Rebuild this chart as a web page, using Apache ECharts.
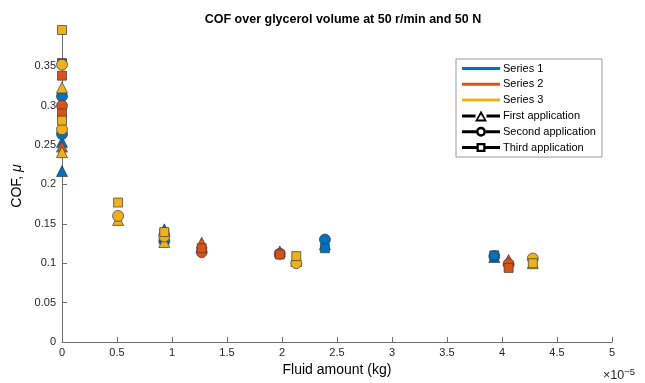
<!DOCTYPE html>
<html>
<head>
<meta charset="utf-8">
<script src="https://cdn.jsdelivr.net/npm/echarts@6/dist/echarts.min.js"></script>
<style>
html,body{margin:0;padding:0;background:#fff;}
#chart{width:645px;height:383px;}
</style>
</head>
<body>
<div id="chart"></div>
<script>
// Fluid amount in units of 1e-5 kg (axis shows ×10^-5)
const s1FirstX  = [0, 0, 0.93, 2.39, 3.93];
const s1FirstY  = [0.217, 0.254, 0.143, 0.124, 0.108];
const s1SecondX = [0, 0, 0.93, 2.39, 3.93];
const s1SecondY = [0.312, 0.264, 0.128, 0.130, 0.109];
const s1ThirdX  = [0, 0.93, 2.39, 3.93];
const s1ThirdY  = [0.354, 0.138, 0.119, 0.110];

const s2FirstX  = [0, 1.27, 1.98, 4.06];
const s2FirstY  = [0.248, 0.126, 0.115, 0.104];
const s2SecondX = [0, 1.27, 1.98, 4.06];
const s2SecondY = [0.300, 0.114, 0.112, 0.099];
const s2ThirdX  = [0, 0, 1.27, 1.98, 4.06];
const s2ThirdY  = [0.338, 0.290, 0.119, 0.111, 0.094];

const s3FirstX  = [0, 0, 0.51, 0.93, 2.13, 4.28];
const s3FirstY  = [0.323, 0.241, 0.155, 0.127, 0.103, 0.100];
const s3SecondX = [0, 0, 0.51, 0.93, 2.13, 4.28];
const s3SecondY = [0.352, 0.270, 0.160, 0.134, 0.100, 0.106];
const s3ThirdX  = [0, 0, 0.51, 0.93, 2.13, 4.28];
const s3ThirdY  = [0.396, 0.281, 0.177, 0.1395, 0.109, 0.100];

const yTickValues = [0, 0.05, 0.1, 0.15, 0.2, 0.25, 0.3, 0.35];
const seriesNames = ['Series 1', 'Series 2', 'Series 3'];
const appNames = ['First application', 'Second application', 'Third application'];
const colors = ['#0072BD', '#D95319', '#EDB120'];

function pts(xs, ys) { return xs.map((x, i) => [x, ys[i]]); }

const groups = [
  [[s1FirstX, s1FirstY], [s1SecondX, s1SecondY], [s1ThirdX, s1ThirdY]],
  [[s2FirstX, s2FirstY], [s2SecondX, s2SecondY], [s2ThirdX, s2ThirdY]],
  [[s3FirstX, s3FirstY], [s3SecondX, s3SecondY], [s3ThirdX, s3ThirdY]]
];
const shapes = ['triangle', 'circle', 'rect'];
const sizes = [11, 11, 9];

const series = [];
groups.forEach((g, si) => {
  g.forEach((d, ai) => {
    series.push({
      type: 'scatter',
      name: 'data' + si + ai,
      data: pts(d[0], d[1]),
      symbol: shapes[ai],
      symbolSize: sizes[ai],
      itemStyle: { color: colors[si], opacity: 1, borderColor: '#3a3a3a', borderWidth: 0.7 },
      emphasis: { disabled: true },
      silent: true
    });
  });
});

// legend icons (box 38 x 11)
const barPath = 'path://M0,0M38,11M0,4L38,4L38,7L0,7Z';
const appIcons = [
  'path://M0,0M38,11M0,4L13.5,4L13.5,7L0,7Z M24.5,4L38,4L38,7L24.5,7Z M19,0L25,11L13,11Z M19,4.2L15.9,9.2L22.1,9.2Z',
  'path://M0,0M38,11M0,4L14,4L14,7L0,7Z M24,4L38,4L38,7L24,7Z M19,0.5A5,5,0,1,1,18.99,0.5Z M19,3A2.5,2.5,0,1,0,19.01,3Z',
  'path://M0,0M38,11M0,4L14.5,4L14.5,7L0,7Z M23.5,4L38,4L38,7L23.5,7Z M14.5,1L23.5,1L23.5,10L14.5,10Z M16.8,3.3L16.8,7.7L21.2,7.7L21.2,3.3Z'
];

seriesNames.forEach((n, i) => {
  series.push({
    type: 'line', name: n, data: [], symbol: 'none',
    itemStyle: { color: colors[i], borderWidth: 0 },
    lineStyle: { color: colors[i], width: 3 }
  });
});
appNames.forEach((n, i) => {
  series.push({
    type: 'line', name: n, data: [], symbol: 'none',
    itemStyle: { color: '#000', borderWidth: 0 },
    lineStyle: { color: '#000', width: 3 }
  });
});

const legendData = seriesNames.map(n => ({ name: n, icon: barPath }))
  .concat(appNames.map((n, i) => ({ name: n, icon: appIcons[i] })));

const chart = echarts.init(document.getElementById('chart'), null, { renderer: 'canvas' });
const font = 'Liberation Sans, Arial, Helvetica, sans-serif';
chart.setOption({
  animation: false,
  backgroundColor: '#fff',
  textStyle: { fontFamily: font },
  title: {
    text: 'COF over glycerol volume at 50 r/min and 50 N',
    left: 338, top: 8, textAlign: 'center',
    textStyle: { fontSize: 12.5, fontWeight: 'bold', color: '#000', fontFamily: font }
  },
  legend: {
    data: legendData,
    orient: 'vertical',
    left: 456, top: 59,
    itemWidth: 38, itemHeight: 11, itemGap: 4.8,
    padding: [4, 6, 4, 6],
    backgroundColor: '#fff',
    borderColor: '#999', borderWidth: 1,
    borderRadius: 0,
    itemStyle: { borderWidth: 0 },
    textStyle: { fontSize: 11, color: '#000', fontFamily: font, padding: [0, 0, 0, -2] },
    selectedMode: false
  },
  grid: { left: 62, right: 33, top: 30, bottom: 41, containLabel: false },
  xAxis: {
    type: 'value', min: 0, max: 5, interval: 0.5,
    name: 'Fluid amount (kg)', nameLocation: 'middle', nameGap: 15,
    nameTextStyle: { fontSize: 14, color: '#000', fontFamily: font },
    axisLine: { show: true, lineStyle: { color: '#6e6e6e', width: 1 } },
    axisTick: { show: true, inside: true, length: 5, lineStyle: { color: '#6e6e6e' } },
    axisLabel: { fontSize: 11, color: '#262626', margin: 5, fontFamily: font },
    splitLine: { show: false }
  },
  yAxis: {
    type: 'value', min: 0, max: 0.396,
    name: '{a|COF, }{b|μ}', nameLocation: 'middle', nameGap: 35, nameRotate: 90,
    nameTextStyle: {
      fontFamily: font,
      rich: {
        a: { fontSize: 14, color: '#000', fontFamily: font },
        b: { fontSize: 14, color: '#000', fontStyle: 'italic', fontFamily: font }
      }
    },
    axisLine: { show: true, lineStyle: { color: '#6e6e6e', width: 1 } },
    axisTick: { show: true, inside: true, length: 5, customValues: yTickValues, lineStyle: { color: '#6e6e6e' } },
    axisLabel: { fontSize: 11, color: '#262626', margin: 6, customValues: yTickValues, fontFamily: font,
      formatter: v => String(Math.round(v * 100) / 100) },
    splitLine: { show: false }
  },
  graphic: [{
    type: 'text', left: 603, top: 367,
    style: {
      text: '{m|×10}{e|−5}',
      rich: {
        m: { fontSize: 12.5, fill: '#262626', fontFamily: font },
        e: { fontSize: 9.5, fill: '#262626', verticalAlign: 'top', padding: [0, 0, 8, 0], fontFamily: font }
      }
    }
  }],
  series: series
});
</script>
</body>
</html>
